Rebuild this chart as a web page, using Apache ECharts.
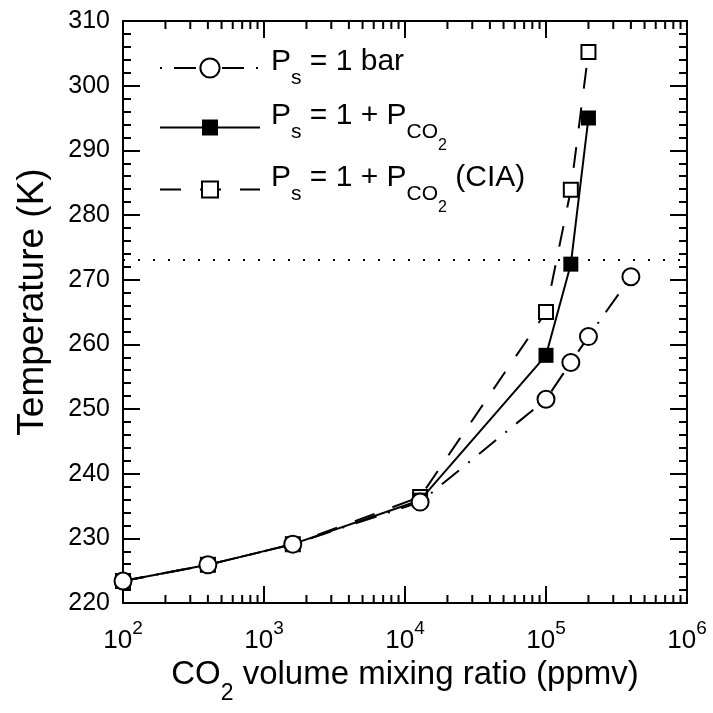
<!DOCTYPE html>
<html><head><meta charset="utf-8">
<script src="https://cdn.jsdelivr.net/npm/echarts@6/dist/echarts.min.js"></script>
<style>html,body{margin:0;padding:0;background:#fff}#c{width:713px;height:713px}</style>
</head><body><div id="c"></div>
<script>
// ---- data ----
const co2Fixed = [100, 400, 1600, 12800, 100000, 150000, 200000, 400000];
const tempFixed = [223.4, 225.9, 229.1, 235.6, 251.5, 257.2, 261.2, 270.45];
const co2Var = [100, 400, 1600, 12800, 100000, 150000, 200000];
const tempVar = [223.4, 225.9, 229.1, 235.9, 258.3, 272.4, 295.0];
const tempCIA = [223.4, 225.9, 229.1, 236.4, 265.0, 283.9, 305.2];
const freezingLine = 273.15;
const seriesNames = ['Ps = 1 bar', 'Ps = 1 + PCO2', 'Ps = 1 + PCO2 (CIA)'];
const legendLabels = [
  '{b|P}{s|s}{b| = 1 bar}',
  '{b|P}{s|s}{b| = 1 + P}{s|CO}{ss|2}',
  '{b|P}{s|s}{b| = 1 + P}{s|CO}{ss|2}{b| (CIA)}'
];
const yTitle = 'Temperature (K)';
const xTitle = '{b|CO}{s|2}{b| volume mixing ratio (ppmv)}';
// minor tick values of the log axis
const xMinorTicks = [200, 300, 400, 500, 600, 700, 800, 900,
  2000, 3000, 4000, 5000, 6000, 7000, 8000, 9000,
  20000, 30000, 40000, 50000, 60000, 70000, 80000, 90000,
  200000, 300000, 400000, 500000, 600000, 700000, 800000, 900000];
const yMin = 220, yMax = 310, yStep = 10;
const xMin = 100, xMax = 1000000;

const F = "'Liberation Sans', Arial, Helvetica, sans-serif";
const K = '#000';
const chart = echarts.init(document.getElementById('c'), null, {renderer: 'canvas'});

const legendRich = {
  b: {fontSize: 30, fontFamily: F, color: K, verticalAlign: 'top'},
  s: {fontSize: 21, fontFamily: F, color: K, verticalAlign: 'top', padding: [21, 0, 0, 0]},
  ss: {fontSize: 16, fontFamily: F, color: K, verticalAlign: 'top', padding: [37, 0, 0, 0]}
};
const legendSpec = [
  {top: 47, h: 24, dashOffset: 34},
  {top: 101, h: 20, dashOffset: 0},
  {top: 163, h: 20, dashOffset: 0}
];
const legends = legendSpec.map((s, i) => ({
  data: [seriesNames[i]],
  left: 159, top: s.top, padding: 0, itemGap: 0,
  itemWidth: 100, itemHeight: s.h,
  selectedMode: false,
  formatter: () => legendLabels[i],
  lineStyle: {dashOffset: s.dashOffset},
  textStyle: {color: K, fontFamily: F, fontSize: 30, padding: [0, 0, 0, 6], rich: legendRich}
}));

const axisCommon = {
  axisLine: {show: true, onZero: false, lineStyle: {color: K, width: 2}},
  axisTick: {show: true, inside: true, length: 17, lineStyle: {color: K, width: 2}},
  splitLine: {show: false},
  minorSplitLine: {show: false}
};
const yMinor = {show: true, splitNumber: 5, length: 8, lineStyle: {color: K, width: 2}};

const xBase = {type: 'log', logBase: 10, min: xMin, max: xMax, minorTick: {show: false}};
const yBase = {type: 'value', min: yMin, max: yMax, interval: yStep, minorTick: yMinor};

const option = {
  animation: false,
  backgroundColor: '#fff',
  grid: {left: 123, right: 26, top: 21, bottom: 110, containLabel: false, outerBoundsMode: 'none'},
  legend: legends,
  xAxis: [
    Object.assign({}, xBase, axisCommon, {
      position: 'bottom',
      axisLabel: {
        margin: 16, color: K, fontFamily: F,
        formatter: v => '{b|10}{p|' + Math.round(Math.log10(v)) + '}',
        rich: {
          b: {fontSize: 26, fontFamily: F, color: K, verticalAlign: 'bottom'},
          p: {fontSize: 19, fontFamily: F, color: K, verticalAlign: 'top', padding: [0, 0, 16, 0]}
        }
      },
      name: xTitle, nameLocation: 'middle', nameGap: 54,
      nameTextStyle: {
        color: K, fontFamily: F, fontSize: 33,
        rich: {
          b: {fontSize: 33, fontFamily: F, color: K, verticalAlign: 'top'},
          s: {fontSize: 23, fontFamily: F, color: K, verticalAlign: 'top', padding: [23, 0, 0, 0]}
        }
      }
    }),
    Object.assign({}, xBase, axisCommon, {
      position: 'top',
      axisLabel: {show: false}
    })
  ],
  yAxis: [
    Object.assign({}, yBase, axisCommon, {
      position: 'left',
      axisLabel: {fontSize: 25, color: K, fontFamily: F, margin: 13},
      name: yTitle, nameLocation: 'middle', nameGap: 72, nameRotate: 90,
      nameTextStyle: {fontSize: 37, color: K, fontFamily: F, padding: [0, 0, 0, 20]}
    }),
    Object.assign({}, yBase, axisCommon, {
      position: 'right',
      axisLabel: {show: false}
    })
  ],
  series: [
    {
      // minor ticks (2..9 x 10^n) of the log x axis, bottom and top frame
      type: 'custom', coordinateSystem: 'cartesian2d', silent: true, z: 1, clip: false,
      data: xMinorTicks.map(v => [v, yMin]),
      renderItem: (params, api) => {
        const b = api.coord([api.value(0), yMin]);
        const t = api.coord([api.value(0), yMax]);
        return {type: 'group', children: [
          {type: 'line', shape: {x1: b[0], y1: b[1], x2: b[0], y2: b[1] - 8}, style: {stroke: K, lineWidth: 2}},
          {type: 'line', shape: {x1: t[0], y1: t[1], x2: t[0], y2: t[1] + 8}, style: {stroke: K, lineWidth: 2}}
        ]};
      }
    },
    {
      name: seriesNames[2], type: 'line', z: 2,
      data: co2Var.map((x, i) => [x, tempCIA[i]]),
      symbol: 'rect', symbolSize: 14, showAllSymbol: true,
      lineStyle: {color: K, width: 2, type: [21, 19]},
      itemStyle: {color: '#fff', borderColor: K, borderWidth: 2},
      emphasis: {disabled: true}
    },
    {
      name: seriesNames[1], type: 'line', z: 3,
      data: co2Var.map((x, i) => [x, tempVar[i]]),
      symbol: 'rect', symbolSize: 15, showAllSymbol: true,
      lineStyle: {color: K, width: 2, type: 'solid'},
      itemStyle: {color: K, borderColor: K, borderWidth: 0},
      emphasis: {disabled: true}
    },
    {
      name: seriesNames[0], type: 'line', z: 4,
      data: co2Fixed.map((x, i) => [x, tempFixed[i]]),
      symbol: 'circle', symbolSize: 17, showAllSymbol: true,
      lineStyle: {color: K, width: 2, type: [22, 12, 2, 12]},
      itemStyle: {color: '#fff', borderColor: K, borderWidth: 2},
      emphasis: {disabled: true},
      markLine: {
        silent: true, symbol: ['none', 'none'], label: {show: false},
        lineStyle: {color: K, width: 2, type: [2, 13]},
        emphasis: {disabled: true},
        data: [{yAxis: freezingLine}]
      }
    }
  ]
};
chart.setOption(option);
</script>
</body></html>
